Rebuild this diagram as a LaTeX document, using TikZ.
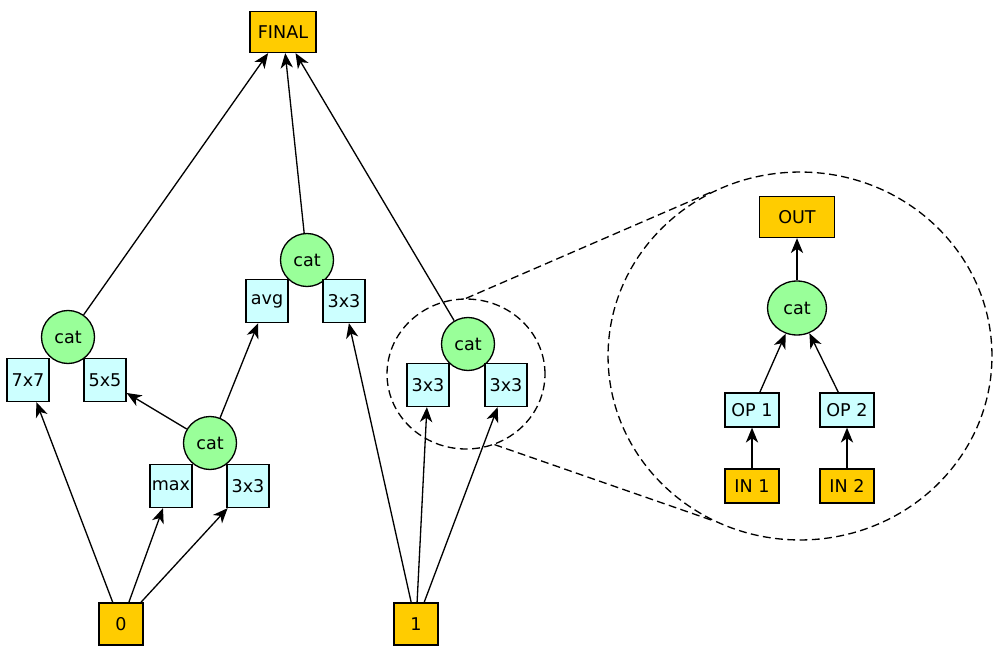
\documentclass[tikz,border=0pt]{standalone}
\usepackage{fontspec}
\setmainfont{DejaVu Sans}
\usetikzlibrary{arrows.meta,shapes.geometric}
\definecolor{inorange}{HTML}{FFCC00}
\definecolor{opcyan}{HTML}{CCFFFF}
\definecolor{catgreen}{HTML}{99FF99}
\begin{document}
\begin{tikzpicture}[x=0.02cm,y=-0.02cm,
  base/.style={font=\fontsize{10}{12}\selectfont, inner sep=0pt, line width=0.75pt, draw=black},
  iobox/.style={base, rectangle, fill=inorange},
  opbox/.style={base, rectangle, fill=opcyan, minimum width=0.84cm, minimum height=0.86cm},
  smallbox/.style={base, rectangle, minimum width=1.08cm, minimum height=0.68cm},
  catnode/.style={base, circle, fill=catgreen, minimum size=1.06cm},
  arr/.style={-{Stealth[length=8.5pt,width=7pt,inset=2.5pt]}, line width=0.75pt},
  zoomline/.style={dash pattern=on 4.5pt off 2.5pt, line width=0.75pt}]
\useasboundingbox (0,0) rectangle (1000,652);

% main graph nodes
\node[iobox, minimum width=1.32cm, minimum height=0.82cm] (final) at (283,32) {FINAL};
\node[catnode] (catL) at (68,337) {cat};
\node[opbox] (b77) at (28,380) {7x7};
\node[opbox] (b55) at (105,380) {5x5};
\node[catnode] (catA) at (210,443) {cat};
\node[opbox] (bmax) at (171,486) {max};
\node[opbox] (b33a) at (248,486) {3x3};
\node[catnode] (catM) at (307,260) {cat};
\node[opbox] (bavg) at (267,301) {avg};
\node[opbox] (b33b) at (344,301) {3x3};
\node[catnode] (catR) at (468,344) {cat};
\node[opbox] (b33c) at (428,385) {3x3};
\node[opbox] (b33d) at (506,385) {3x3};
\node[iobox, minimum width=0.88cm, minimum height=0.84cm] (in0) at (121,624) {0};
\node[iobox, minimum width=0.88cm, minimum height=0.84cm] (in1) at (416,624) {1};

% zoom ellipses
\node[ellipse, draw, zoomline, inner sep=0pt, minimum width=3.16cm, minimum height=3.0cm] (zs) at (466,374) {};
\node[ellipse, draw, zoomline, inner sep=0pt, minimum width=7.68cm, minimum height=7.36cm] (zb) at (800,356) {};

% inset nodes
\node[iobox, minimum width=1.5cm, minimum height=0.82cm] (out) at (797,217) {OUT};
\node[base, ellipse, fill=catgreen, minimum width=1.18cm, minimum height=1.08cm] (icat) at (797,308) {cat};
\node[smallbox, fill=opcyan] (op1) at (752,410) {OP 1};
\node[smallbox, fill=opcyan] (op2) at (847,410) {OP 2};
\node[smallbox, fill=inorange] (iin1) at (752,486) {IN 1};
\node[smallbox, fill=inorange] (iin2) at (847,486) {IN 2};

% edges
\draw[arr] (in0) -- (b77);
\draw[arr] (in0) -- (bmax);
\draw[arr] (in0) -- (b33a);
\draw[arr] (catA) -- (b55);
\draw[arr] (catA) -- (bavg);
\draw[arr] (catL) -- (final);
\draw[arr] (catM) -- (final);
\draw[arr] (catR) -- (final);
\draw[arr] (in1) -- (b33b);
\draw[arr] (in1) -- (b33c);
\draw[arr] (in1) -- (b33d);

\draw[arr] (icat) -- (out);
\draw[arr] (op1) -- (icat);
\draw[arr] (op2) -- (icat);
\draw[arr] (iin1) -- (op1);
\draw[arr] (iin2) -- (op2);

% zoom lines
\draw[zoomline] (zs.north) -- (zb.118);
\draw[zoomline] (zs.-68) -- (zb.-118);
\end{tikzpicture}
\end{document}
